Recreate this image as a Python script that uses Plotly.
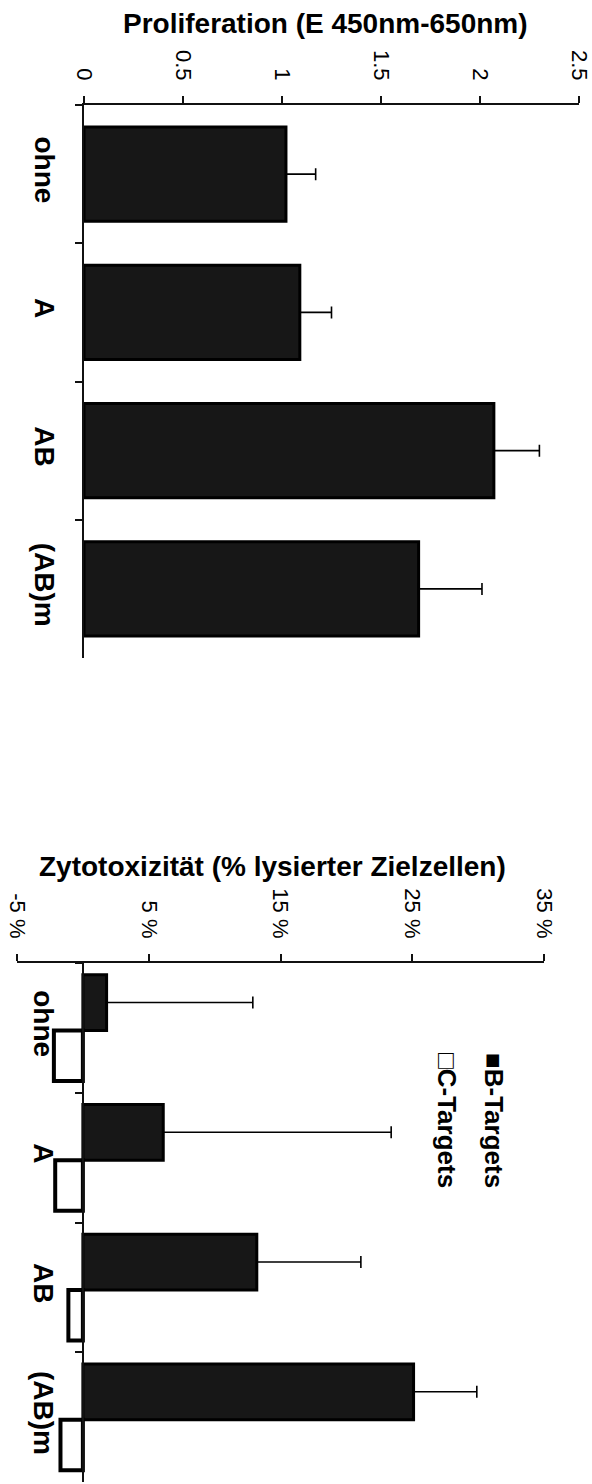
import plotly.graph_objects as go

# Treatment groups (shared by both panels)
categories = ["ohne", "A", "AB", "(AB)m"]

# Panel 1: proliferation, optical density E 450nm-650nm
prolif_mean = [1.02, 1.09, 2.07, 1.69]
prolif_err = [0.15, 0.16, 0.23, 0.32]
prolif_ticks = [0, 0.5, 1, 1.5, 2, 2.5]

# Panel 2: cytotoxicity, % lysed target cells
cyto_b = [1.8, 6.1, 13.2, 25.1]
cyto_b_err = [11.1, 17.3, 7.9, 4.8]
cyto_c = [-2.2, -2.1, -1.1, -1.7]
cyto_ticks = [-5, 5, 15, 25, 35]
cyto_ticktext = ["-5 %", "5 %", "15 %", "25 %", "35 %"]

series_names = ["B-Targets", "C-Targets"]

W, H = 592, 1484
FONT = "Liberation Sans, Arial, sans-serif"


def fx(px):
    return px / W


def fy(px):
    return 1 - px / H


BAR_FILL = "#171717"
LINE = "#111111"

fig = go.Figure()

fig.add_trace(go.Bar(
    y=categories, x=prolif_mean, orientation="h",
    xaxis="x", yaxis="y",
    width=0.68, offset=-0.34,
    marker=dict(color=BAR_FILL, line=dict(color="black", width=3)),
    error_x=dict(type="data", symmetric=False, array=prolif_err,
                 arrayminus=[0] * len(prolif_err),
                 color="black", thickness=1.6, width=6),
    showlegend=False,
))

fig.add_trace(go.Bar(
    y=categories, x=cyto_b, orientation="h", name=series_names[0],
    xaxis="x2", yaxis="y2",
    width=0.43, offset=-0.41,
    marker=dict(color=BAR_FILL, line=dict(color="black", width=3)),
    error_x=dict(type="data", symmetric=False, array=cyto_b_err,
                 arrayminus=[0] * len(cyto_b_err),
                 color="black", thickness=1.6, width=6),
    showlegend=False,
))

fig.add_trace(go.Bar(
    y=categories, x=cyto_c, orientation="h", name=series_names[1],
    xaxis="x2", yaxis="y2",
    width=0.39, offset=0.02,
    marker=dict(color="white", line=dict(color="black", width=4)),
    showlegend=False,
))

value_axis = dict(
    side="top", showline=True, linecolor=LINE, linewidth=1.6,
    ticks="outside", ticklen=7, tickwidth=1.6, tickcolor=LINE,
    tickangle=90, showgrid=False, zeroline=False, automargin=False,
    ticklabelstandoff=8,
    tickfont=dict(family=FONT, size=22, color="black"),
    fixedrange=True,
)
cat_axis = dict(
    type="category", autorange="reversed", showline=True,
    linecolor=LINE, linewidth=1.6, ticks="outside", tickson="boundaries",
    ticklen=7, tickwidth=1.6, tickcolor=LINE, tickangle=90,
    showgrid=False, zeroline=False, automargin=False,
    ticklabelstandoff=14,
    tickfont=dict(family=FONT, size=28, color="black", weight="bold"),
    fixedrange=True,
)

fig.update_layout(
    width=W, height=H,
    margin=dict(l=0, r=0, t=0, b=0),
    paper_bgcolor="white", plot_bgcolor="white",
    barmode="overlay",
    xaxis=dict(value_axis, domain=[fx(84), fx(579)], range=[0, 2.5],
               anchor="y", tickvals=prolif_ticks),
    yaxis=dict(cat_axis, domain=[fy(658), fy(105)], anchor="x"),
    xaxis2=dict(value_axis, domain=[fx(17), fx(544)], range=[-5, 35],
                anchor="y2", tickvals=cyto_ticks, ticktext=cyto_ticktext),
    yaxis2=dict(cat_axis, domain=[fy(1482), fy(963)], anchor="free",
                position=fx(82.9)),
)

title_font = dict(family=FONT, size=28, color="black", weight="bold")
fig.add_annotation(text="Proliferation (E 450nm-650nm)", xref="paper",
                   yref="paper", x=fx(325), y=fy(24), showarrow=False,
                   xanchor="center", yanchor="middle", font=title_font)
fig.add_annotation(text="Zytotoxizität (% lysierter Zielzellen)",
                   xref="paper", yref="paper", x=fx(272), y=fy(866),
                   showarrow=False, xanchor="center", yanchor="middle",
                   font=title_font)

# Legend entries, rotated with the rest of the chart
legend_font = dict(family=FONT, size=26, color="black", weight="bold")
for sym, name, xpos in [("■", series_names[0], 494), ("□", series_names[1], 447)]:
    fig.add_annotation(text=sym + name, xref="paper", yref="paper",
                       x=fx(xpos), y=fy(1120), textangle=90, showarrow=False,
                       xanchor="center", yanchor="middle", font=legend_font)

fig.write_html("out.html")
